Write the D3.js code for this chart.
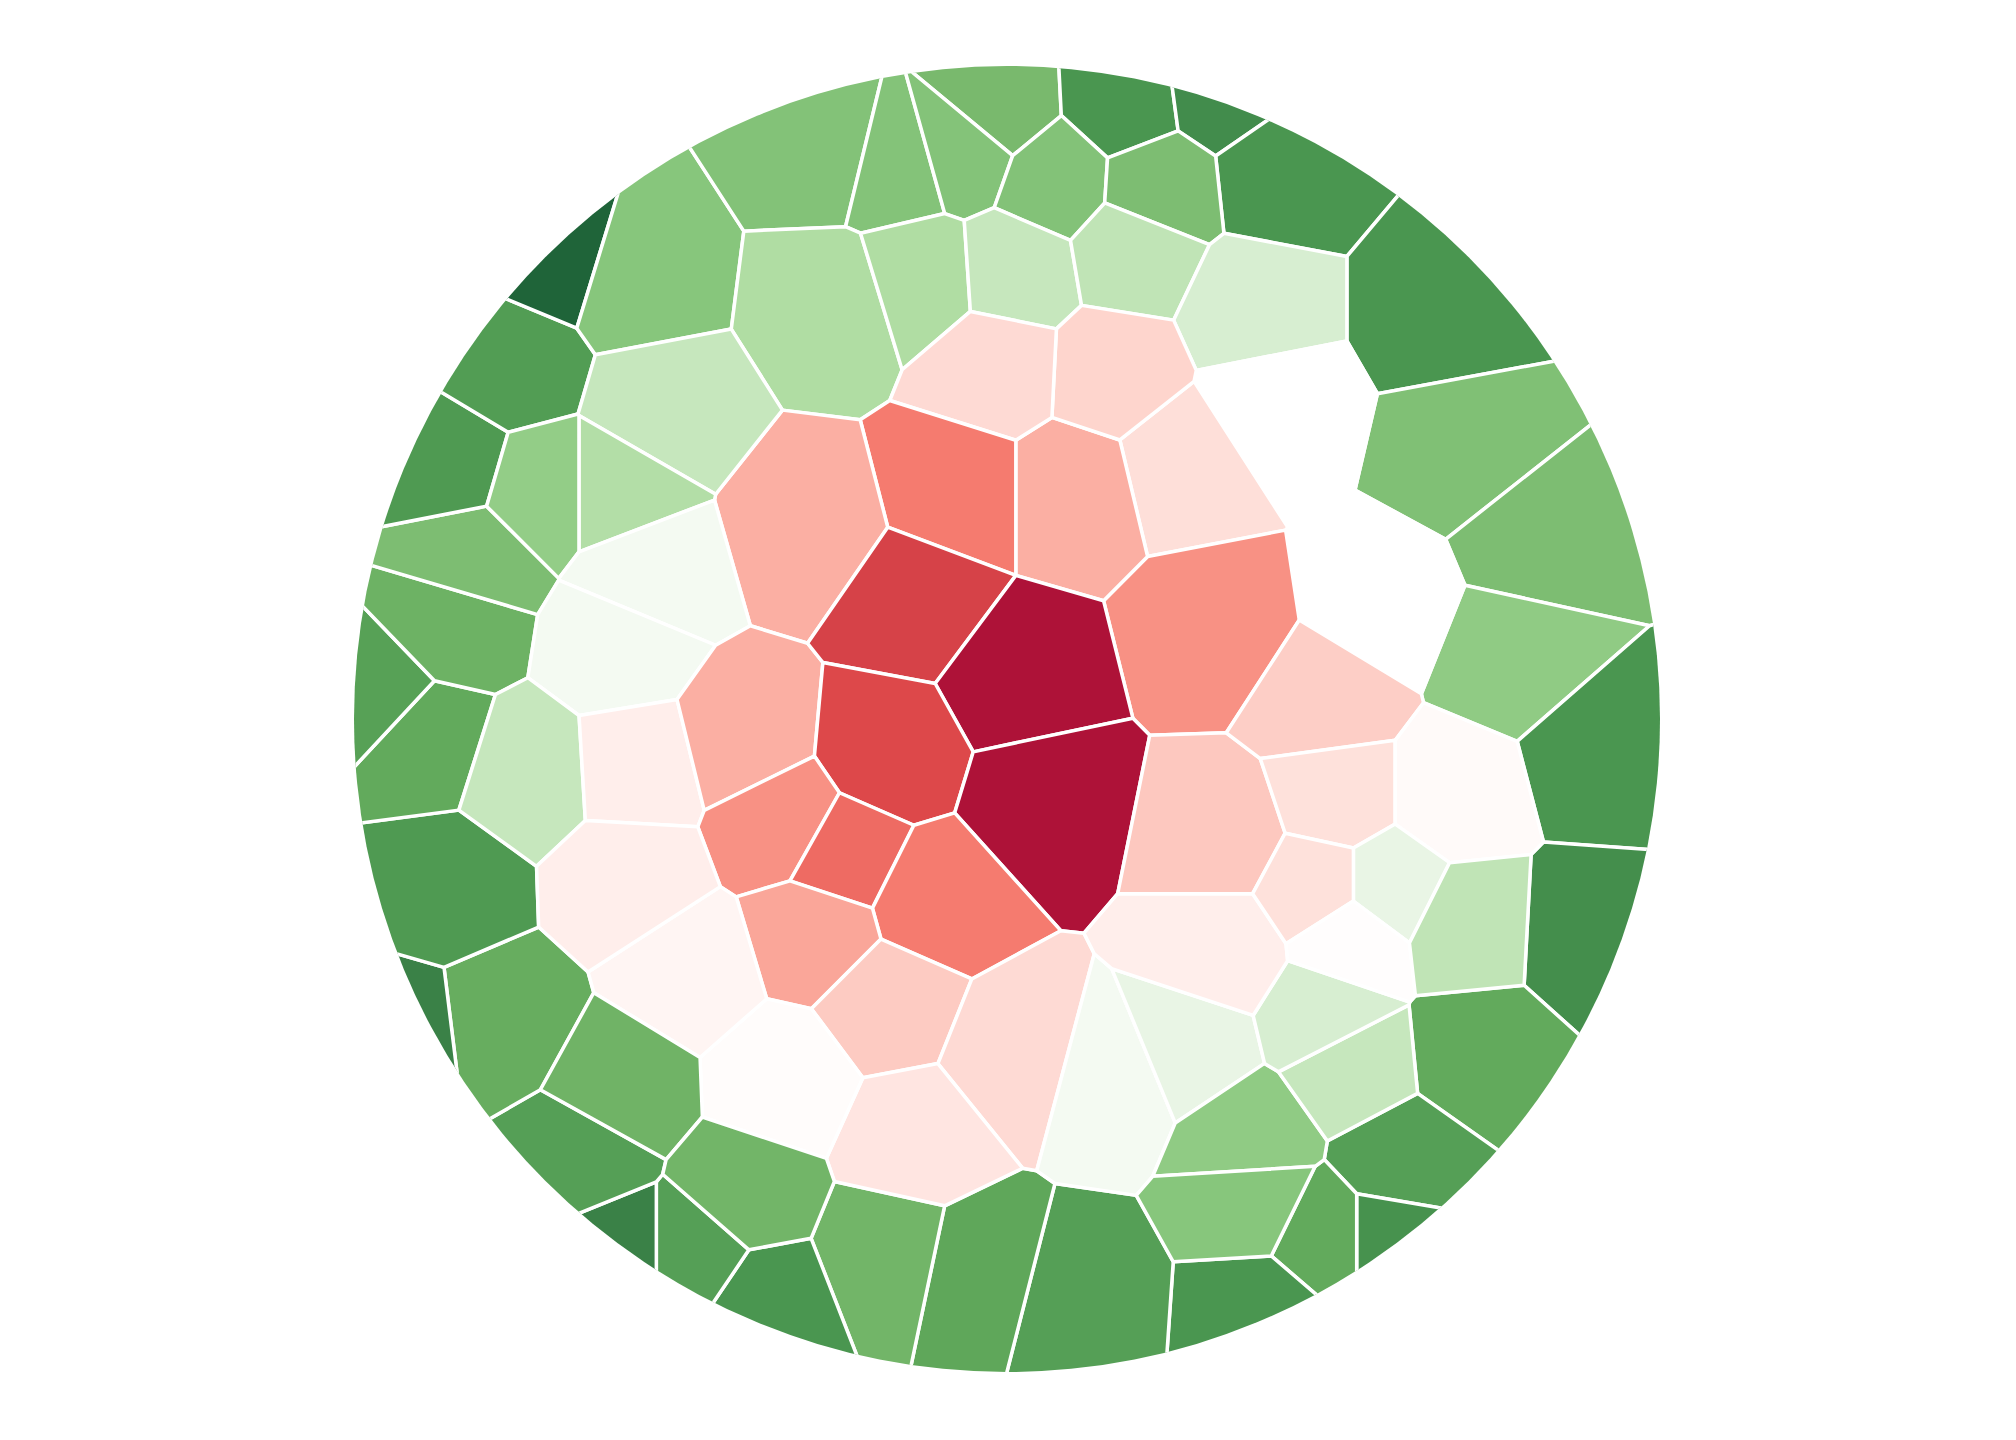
<!DOCTYPE html>
<html>
<head>
<meta charset="utf-8">
<script src="https://cdn.jsdelivr.net/npm/d3@7"></script>
<style>
  html, body { margin: 0; padding: 0; background: #fff; }
  svg { display: block; }
</style>
</head>
<body>
<svg id="voronoi" width="2016" height="1440"></svg>
<script>
// cell sites, in units of the circle radius (-100..100), and cell values (-1 green .. 1 red)
var cellX = [
  -1.6, 18.1, 32.9, 41.7, 66.3, 70.3, 81.1, 77.2, 90.9, 89.0,
  72.2, 60.4, 58.5, 48.6, 38.8, 11.2, -4.5, -18.3, -37.0, -47.8,
  -59.6, -65.6, -77.4, -92.7, -86.2, -89.2, -96.5, -85.2, -82.3, -85.2,
  -76.4, -69.1, -56.7, -27.2, -17.3, -6.5, 7.3, 23.0, -26.2, -13.4,
  1.4, 19.1, 37.8, 40.7, 57.5, 27.0, 31.9, 10.2, 16.1, -1.6,
  -7.5, -30.5, -52.8, -59.6, -71.5, -54.7, -59.6, -73.4, -56.7, -40.4,
  -14.0, 1.8, -18.3, 5.7, -34.1, -25.2, -11.4, -29.1, -18.3, 1.4,
  -14.4, -34.1, -48.8, -57.7, -59.6, -40.0, 16.1, 28.0, 37.2, 37.8,
  52.6, 48.6, 32.9, 32.9, 48.6, 50.6, 68.3, 58.5, 47.6, 52.6,
  70.3
];
var cellY = [
  -93.3, -94.3, -96.3, -83.5, -62.8, -41.1, -27.4, -9.6, 6.1, 32.7,
  51.4, 68.1, 79.3, 79.3, 90.7, 88.8, 84.8, 81.9, 89.2, 81.9,
  81.9, 67.1, 46.5, 48.4, 25.8, 3.1, -3.7, -14.6, -24.4, -39.2,
  -53.9, -71.5, -67.7, -86.8, -84.4, -87.4, -82.5, -81.5, -63.8, -67.7,
  -68.7, -71.7, -62.8, -48.0, -17.5, -39.2, -13.6, -35.2, -53.0, -53.9,
  -35.2, -29.3, -47.0, -35.2, -35.2, -22.4, -10.6, 8.1, 7.1, 3.1,
  -17.9, -6.1, 5.1, 12.4, 15.9, 20.9, 27.8, 32.7, 43.5, 51.4,
  64.2, 55.3, 38.6, 24.8, 56.3, 73.0, 55.3, 50.4, 64.2, 74.0,
  53.3, 45.5, 35.6, 17.9, -2.8, 12.0, 12.0, 25.8, 25.8, 33.7,
  31.7
];
var cellValue = [
  -0.5, -0.75, -0.8, -0.75, -0.75, -0.45, -0.47, -0.37, -0.75, -0.79,
  -0.6, -0.68, -0.77, -0.6, -0.75, -0.68, -0.62, -0.53, -0.75, -0.68,
  -0.85, -0.68, -0.58, -0.85, -0.72, -0.6, -0.67, -0.55, -0.47, -0.72,
  -0.7, -1.0, -0.4, -0.43, -0.42, -0.42, -0.43, -0.47, -0.27, -0.27,
  -0.2, -0.22, -0.14, 0, 0, 0.17, 0.43, 0.33, 0.21, 0.19,
  0.5, 0.33, -0.2, -0.26, -0.36, -0.04, -0.04, -0.2, 0.1, 0.33,
  0.75, 1.0, 0.68, 1.0, 0.43, 0.55, 0.5, 0.36, 0.24, 0.19,
  0.14, 0.02, 0.06, 0.1, -0.54, -0.53, -0.04, -0.08, -0.37, -0.4,
  -0.2, -0.14, 0.1, 0.25, 0.23, 0.16, 0.03, -0.08, 0.16, 0.01,
  -0.22
];

var colorStops = [-1, -0.85, -0.75, -0.6, -0.5, -0.4, -0.3, -0.2, -0.1, 0,
                  0.1, 0.2, 0.3, 0.4, 0.5, 0.65, 0.75, 1];
var colorRange = ["#1f6439", "#3a8147", "#4a9650", "#62aa5c", "#79b96d", "#87c67c",
                  "#a6d898", "#c6e7bd", "#e3f3de", "#ffffff", "#ffeeeb", "#fed8d1",
                  "#fcb8ac", "#f99a8d", "#f57b6f", "#e04a4b", "#d64248", "#ae1238"];

var svg = d3.select("svg#voronoi"),
    width = +svg.attr("width"),
    height = +svg.attr("height");

var cx = 1007, cy = 719, radius = 653;

var x = d3.scaleLinear().domain([-100, 100]).range([cx - radius, cx + radius]);
var y = d3.scaleLinear().domain([-100, 100]).range([cy - radius, cy + radius]);

var color = d3.scaleLinear()
    .domain(colorStops)
    .range(colorRange)
    .interpolate(d3.interpolateRgb);

var cells = cellX.map(function(d, i) {
  return {x: x(d), y: y(cellY[i]), value: cellValue[i]};
});

var delaunay = d3.Delaunay.from(cells, function(d) { return d.x; }, function(d) { return d.y; });
var voronoi = delaunay.voronoi([0, 0, width, height]);

svg.append("clipPath")
    .attr("id", "disc")
  .append("circle")
    .attr("cx", cx)
    .attr("cy", cy)
    .attr("r", radius);

svg.append("g")
    .attr("clip-path", "url(#disc)")
  .selectAll("path")
  .data(cells)
  .enter().append("path")
    .attr("d", function(d, i) { return voronoi.renderCell(i); })
    .style("fill", function(d) { return color(d.value); })
    .style("stroke", "#fff")
    .style("stroke-width", 3.5)
    .style("stroke-linejoin", "round");
</script>
</body>
</html>
